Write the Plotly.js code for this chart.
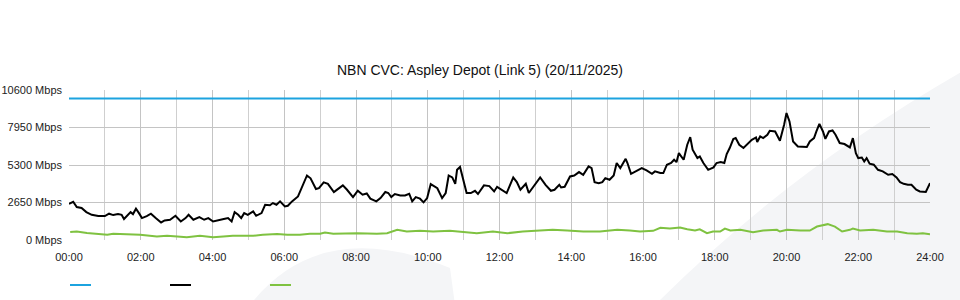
<!DOCTYPE html>
<html>
<head>
<meta charset="utf-8">
<script src="https://cdn.plot.ly/plotly-3.0.1.min.js"></script>
<style>html,body{margin:0;padding:0;background:#fff;}#chart{width:960px;height:300px;}</style>
</head>
<body>
<div id="chart"></div>
<script>
// Time axis in minutes since midnight
const tickMinutes = [0,120,240,360,480,600,720,840,960,1080,1200,1320,1440];
const tickLabels = ["00:00","02:00","04:00","06:00","08:00","10:00","12:00","14:00","16:00","18:00","20:00","22:00","24:00"];
const yTickVals = [0,2650,5300,7950,10600];
const yTickLabels = ["0 Mbps","2650 Mbps","5300 Mbps","7950 Mbps","10600 Mbps"];

// Series colours (also used for the legend swatches)
const seriesColors = ['#1ca3df', '#000000', '#7fc241'];

// Capacity (blue)
const capacityTimes = [0,1440];
const capacityValues = [10000,10000];

// Traffic (black)
const trafficTimes = [0,7,13,21,29,38,49,60,67,74,82,88,92,99,103,107,112,117,122,130,137,145,154,160,169,178,187,195,200,208,213,218,226,233,241,249,257,266,272,277,283,288,293,299,308,313,322,328,336,341,347,353,361,366,373,383,391,398,404,408,413,418,426,433,443,449,458,465,475,483,491,498,504,514,521,529,534,539,545,554,562,569,574,580,587,593,599,605,612,616,624,630,635,641,646,649,654,660,665,672,679,684,694,703,711,716,722,732,743,749,755,764,769,778,788,797,806,812,820,823,829,838,845,853,860,869,874,879,886,892,897,904,911,916,922,931,934,940,947,958,966,975,980,989,994,1000,1007,1012,1016,1020,1022,1028,1034,1039,1043,1051,1055,1061,1069,1078,1083,1090,1096,1100,1105,1111,1115,1121,1128,1133,1142,1149,1151,1156,1161,1168,1172,1181,1189,1196,1200,1205,1211,1219,1228,1234,1239,1246,1250,1255,1261,1265,1271,1277,1282,1289,1297,1306,1311,1316,1320,1326,1330,1334,1339,1346,1353,1361,1370,1377,1384,1390,1396,1403,1409,1417,1423,1433,1440];
const trafficValues = [2560,2700,2330,2260,1970,1780,1690,1690,1860,1760,1830,1780,1480,1780,1970,1830,2210,1900,1550,1690,1860,1550,1240,1380,1430,1710,1310,1550,1780,1430,1550,1620,1430,1550,1310,1410,1460,1550,1310,1970,1780,1550,1900,1780,2020,1710,1900,2490,2450,2610,2490,2730,2370,2420,2730,3080,3900,4560,4360,3970,3600,3660,4070,3970,3390,3580,3860,3550,3030,3480,3200,3290,2920,2730,2960,3390,3320,3030,3250,3150,3150,3270,2730,3030,2920,2660,2960,3950,3740,3660,2960,3320,4560,4420,3970,4960,5160,4040,3320,3320,3480,3250,3860,3810,3430,3760,3600,3320,4420,4090,3550,3970,3320,3860,4420,3900,3480,3550,3900,3710,3760,4490,4560,4800,4610,5200,5080,4090,4020,4090,4370,4260,4560,5440,5080,5740,5440,4680,4850,5080,4920,4680,4850,4730,4730,5320,5440,5670,5500,6140,6020,5670,6730,7270,6380,5790,5900,5440,4960,5130,5440,5510,5440,6070,6500,7130,7200,6730,6500,6730,7080,7250,6920,7320,7200,7440,7720,7670,7010,8140,8970,8380,6960,6610,6570,6570,6960,7200,7670,8210,7670,7150,7670,7740,7440,6850,6780,6540,7200,6140,5790,5830,5550,5790,5390,5320,4960,4850,4610,4660,4420,4090,3970,3900,3900,3550,3430,3390,4020];

// Traffic (green)
const greenTimes = [2,13,30,46,64,74,90,119,147,164,181,197,219,241,258,274,308,324,348,365,386,403,420,428,442,482,515,532,549,565,587,609,637,666,682,709,733,759,788,809,833,860,888,917,938,955,977,989,1005,1022,1034,1047,1055,1067,1077,1089,1097,1106,1123,1144,1161,1184,1189,1201,1223,1239,1251,1269,1281,1293,1306,1311,1323,1345,1368,1385,1402,1418,1428,1440];
const greenValues = [560,600,490,420,370,440,420,370,250,300,250,200,300,200,250,300,300,370,420,370,370,440,440,530,440,480,440,480,720,600,650,600,650,530,480,600,480,600,650,720,670,600,600,720,670,600,650,860,810,880,760,670,760,480,600,600,810,670,720,550,670,720,600,720,670,670,950,1120,950,600,720,810,670,720,600,600,480,440,480,400];

const traces = [
  {x: capacityTimes, y: capacityValues, type: 'scatter', mode: 'lines', name: '',
   line: {color: seriesColors[0], width: 2}, hoverinfo: 'skip'},
  {x: trafficTimes, y: trafficValues, type: 'scatter', mode: 'lines', name: '',
   line: {color: seriesColors[1], width: 2}, hoverinfo: 'skip'},
  {x: greenTimes, y: greenValues, type: 'scatter', mode: 'lines', name: '',
   line: {color: seriesColors[2], width: 2}, hoverinfo: 'skip'}
];

function px2x(p){ return (p - 69) / 861; }
function px2y(p){ return (240 - p) / 150; }

// Legend swatches (no labels in the original)
const legendShapes = seriesColors.map((c, i) => ({
  type: 'line', xref: 'paper', yref: 'paper',
  x0: px2x(70 + i * 100), x1: px2x(91 + i * 100), y0: px2y(285), y1: px2y(285),
  line: {color: c, width: 2}
}));

const layout = {
  width: 960, height: 300,
  margin: {l: 69, r: 30, t: 90, b: 60},
  paper_bgcolor: '#ffffff',
  plot_bgcolor: 'rgba(0,0,0,0)',
  font: {family: '"Liberation Sans", Arial, sans-serif', size: 11, color: '#222'},
  title: {text: 'NBN CVC: Aspley Depot (Link 5) (20/11/2025)', x: 0.5, xanchor: 'center',
          y: 1 - 70/300, yanchor: 'middle', font: {size: 14, color: '#111'}},
  showlegend: false,
  xaxis: {range: [0,1440], tickvals: tickMinutes, ticktext: tickLabels, showgrid: true,
          gridcolor: '#c4c4c4', gridwidth: 1, zeroline: false, showline: false, ticks: '',
          ticklabelstandoff: 9, fixedrange: true,
          minor: {dtick: 60, tick0: 0, showgrid: true, gridcolor: '#cfcfcf', gridwidth: 1}},
  yaxis: {range: [0,10600], tickvals: yTickVals, ticktext: yTickLabels, showgrid: true,
          gridcolor: '#c4c4c4', gridwidth: 1, zeroline: false, showline: false, ticks: '',
          ticklabelstandoff: 6, fixedrange: true},
  shapes: [
    {type: 'path', xref: 'paper', yref: 'paper', layer: 'below',
     path: `M ${px2x(250)},${px2y(305)} Q ${px2x(320)},${px2y(215)} ${px2x(450)},${px2y(268)} L ${px2x(455)},${px2y(305)} Z`,
     fillcolor: '#f4f5f7', line: {width: 0}},
    {type: 'path', xref: 'paper', yref: 'paper', layer: 'below',
     path: `M ${px2x(655)},${px2y(305)} Q ${px2x(790)},${px2y(170)} ${px2x(965)},${px2y(70)} L ${px2x(965)},${px2y(305)} Z`,
     fillcolor: '#f4f5f7', line: {width: 0}}
  ].concat(legendShapes)
};

Plotly.newPlot('chart', traces, layout, {displayModeBar: false, staticPlot: true});
</script>
</body>
</html>
